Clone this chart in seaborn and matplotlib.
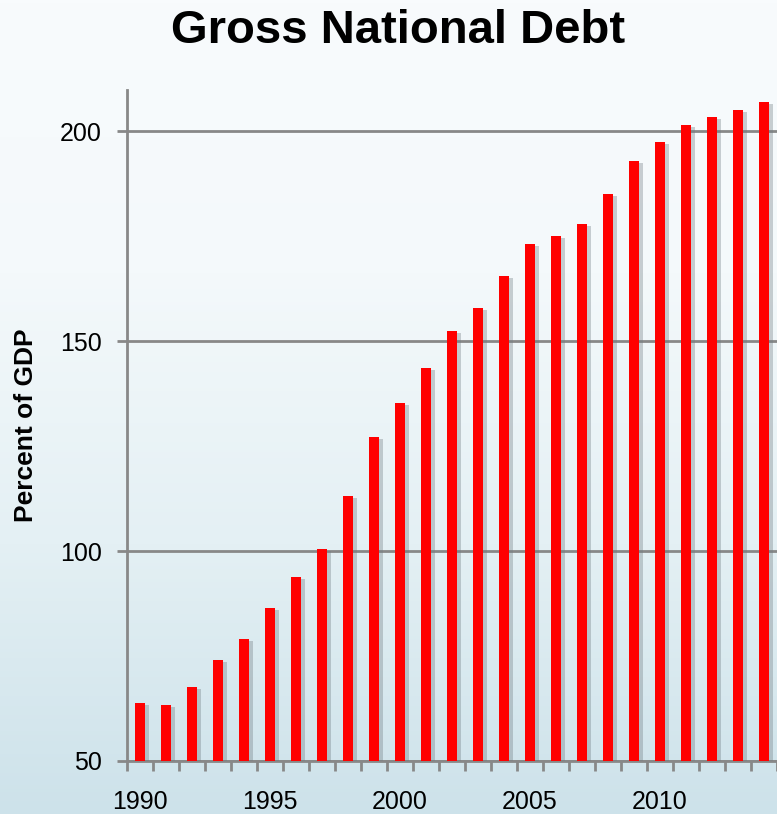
import numpy as np
import pandas as pd
import matplotlib
matplotlib.use("Agg")
import matplotlib.pyplot as plt
import matplotlib.patheffects as pe
from matplotlib.colors import LinearSegmentedColormap
import seaborn as sns

years = list(range(1990, 2015))
debt = [63.8, 63.3, 67.6, 74.0, 79.0, 86.4, 93.8, 100.5, 113.1, 127.1,
        135.2, 143.6, 152.4, 157.9, 165.5, 173.1, 175.0, 177.9, 185.0, 192.9,
        197.4, 201.4, 203.3, 205.0, 206.9]
yticks = [50, 100, 150, 200]
xlabels = ["1990", "1995", "2000", "2005", "2010"]

df = pd.DataFrame({"year": [str(y) for y in years], "debt": debt})

sns.set_theme(style="white")
plt.rcParams['font.family'] = ['Liberation Sans', 'DejaVu Sans']
plt.rcParams['text.color'] = 'black'
plt.rcParams['xtick.color'] = 'black'
plt.rcParams['ytick.color'] = 'black'
plt.rcParams['axes.labelcolor'] = 'black'

fig = plt.figure(figsize=(7.77, 8.14), dpi=100)

# background gradient
bg = fig.add_axes([0, 0, 1, 1], zorder=-10)
grad = np.linspace(0, 1, 256).reshape(-1, 1)
cmap = LinearSegmentedColormap.from_list("bg", ["#f8fbfd", "#f4f9fb", "#e4f0f4", "#cde2ea"])
bg.imshow(grad, aspect="auto", cmap=cmap, extent=[0, 1, 0, 1], origin="upper")
bg.axis("off")

ax = fig.add_axes([127/777, 1 - 761/814, 1 - 127/777, (761 - 90)/814])
ax.patch.set_alpha(0)

sns.barplot(data=df, x="year", y="debt", color="#ff0000", saturation=1,
            width=0.41, linewidth=0, edgecolor="none", ax=ax, zorder=3)
for p in ax.patches:
    p.set_path_effects([pe.SimplePatchShadow(offset=(2.5, -1.5), shadow_rgbFace="#6f7a80", alpha=0.35), pe.Normal()])

ax.set_ylim(50, 209.8)
ax.set_xlim(-0.5, 24.5)
ax.set_yticks(yticks)
ax.set_yticklabels([str(v) for v in yticks], fontsize=18)
ax.yaxis.grid(True, color="#888888", linewidth=2)
ax.set_axisbelow(True)

ax.set_xticks([0, 5, 10, 15, 20])
ax.set_xticklabels(xlabels, fontsize=18)
ax.set_xticks(np.arange(-0.5, 25, 1), minor=True)
ax.tick_params(axis="x", which="major", length=0, pad=21, labelcolor="black")
ax.tick_params(axis="x", which="minor", length=7, width=2, color="#888888", direction="out", bottom=True)
ax.tick_params(axis="y", which="major", length=7, width=2, color="#888888", direction="out", left=True, pad=11, labelcolor="black")

for s in ["top", "right"]:
    ax.spines[s].set_visible(False)
for s in ["left", "bottom"]:
    ax.spines[s].set_color("#888888")
    ax.spines[s].set_linewidth(2)

ax.set_xlabel("")
ax.set_ylabel("Percent of GDP", fontsize=19, fontweight="bold", labelpad=16, color="black")

fig.text(398/777, 1 - 31/814, "Gross National Debt", ha="center", va="center",
         fontsize=34, fontweight="bold", color="black")

fig.savefig("out.png", dpi=100)
